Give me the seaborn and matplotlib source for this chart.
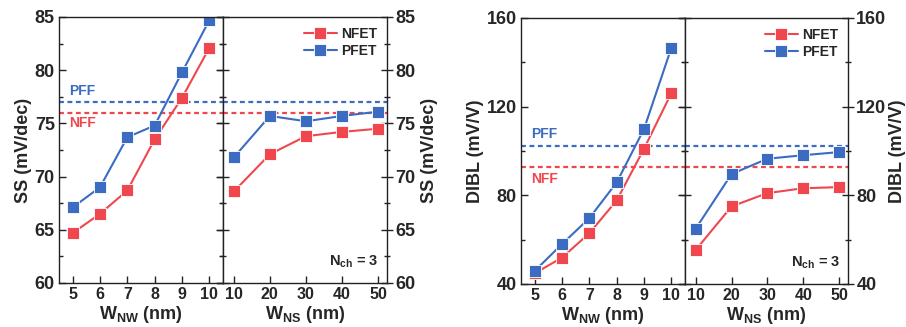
import numpy as np
import pandas as pd
import matplotlib
matplotlib.use("Agg")
import matplotlib.pyplot as plt
import seaborn as sns
from matplotlib.ticker import MultipleLocator

# ---- data ----
w_nw = [5, 6, 7, 8, 9, 10]
w_ns = [10, 20, 30, 40, 50]

ss_nw_nfet = [64.7, 66.5, 68.7, 73.5, 77.4, 82.1]
ss_nw_pfet = [67.1, 69.0, 73.7, 74.8, 79.8, 84.7]
ss_ns_nfet = [68.6, 72.1, 73.8, 74.2, 74.5]
ss_ns_pfet = [71.8, 75.7, 75.2, 75.7, 76.1]
ss_pff = 77.0
ss_nff = 76.0

dibl_nw_nfet = [44.8, 51.9, 62.9, 77.7, 101.0, 126.1]
dibl_nw_pfet = [45.9, 58.0, 69.7, 85.8, 109.9, 146.5]
dibl_ns_nfet = [55.4, 75.0, 81.0, 83.2, 83.7]
dibl_ns_pfet = [65.0, 89.6, 96.5, 98.1, 99.5]
dibl_pff = 102.1
dibl_nff = 93.0

series = ["NFET", "PFET"]
RED = "#f0474f"
BLUE = "#3b6cc2"

sns.set_theme(style="ticks")
plt.rcParams["font.family"] = ["Liberation Sans", "DejaVu Sans"]
plt.rcParams["font.weight"] = "bold"
plt.rcParams["mathtext.fontset"] = "custom"
plt.rcParams["mathtext.rm"] = "Liberation Sans:bold"
plt.rcParams["mathtext.bf"] = "Liberation Sans:bold"
plt.rcParams["mathtext.it"] = "Liberation Sans:bold"

W, H = 906, 327
fig = plt.figure(figsize=(W / 100, H / 100), dpi=100)


def ax_at(x0, x1, ytop, ybot):
    return fig.add_axes([x0 / W, (H - ybot) / H, (x1 - x0) / W, (ybot - ytop) / H])


def make_df(x, n, p):
    return pd.DataFrame({"x": list(x) * 2, "y": list(n) + list(p),
                         "dev": [series[0]] * len(n) + [series[1]] * len(p)})


def draw_pair(axL, axR, nw_n, nw_p, ns_n, ns_p, pff, nff, ylim, major, minor, ylabel,
              pff_off, nff_off, rpad):
    pal = {"NFET": RED, "PFET": BLUE}
    sns.lineplot(data=make_df(w_nw, nw_n, nw_p), x="x", y="y", hue="dev", palette=pal,
                 marker="s", markersize=8.5, markeredgewidth=0.6, linewidth=1.5, ax=axL, legend=False)
    sns.lineplot(data=make_df(w_ns, ns_n, ns_p), x="x", y="y", hue="dev", palette=pal,
                 marker="s", markersize=8.5, markeredgewidth=0.6, linewidth=1.5, ax=axR, legend=True)
    for ax in (axL, axR):
        ax.axhline(pff, color=BLUE, ls=(0, (2.2, 1.6)), lw=1.6, zorder=1)
        ax.axhline(nff, color=RED, ls=(0, (2.2, 1.6)), lw=1.6, zorder=1)
        ax.set_ylim(*ylim)
        ax.yaxis.set_major_locator(MultipleLocator(major))
        ax.yaxis.set_minor_locator(MultipleLocator(minor))
        for s in ax.spines.values():
            s.set_linewidth(1.0)
            s.set_color("#222222")
    axL.set_xlim(4.5, 10.5)
    axL.set_xticks(w_nw)
    axR.set_xlim(7.0, 52.5)
    axR.set_xticks(w_ns)
    axL.tick_params(axis="both", which="both", direction="in", right=True, left=True,
                    top=False, color="#222222")
    axL.tick_params(axis="both", which="major", length=5, width=1.0)
    axL.tick_params(axis="both", which="minor", length=3, width=1.0)
    axL.tick_params(axis="y", labelsize=13, pad=3)
    axL.tick_params(axis="x", labelsize=11.5, pad=3)
    axR.tick_params(axis="both", which="both", direction="inout", left=True, right=True,
                    top=False, labelleft=False, labelright=True, color="#222222")
    axR.tick_params(axis="y", which="major", length=8, width=1.0, labelsize=13, pad=2)
    axR.tick_params(axis="y", which="minor", length=5, width=1.0)
    axR.tick_params(axis="x", which="major", direction="in", length=5, width=1.0, labelsize=11.5, pad=3)
    axR.yaxis.set_label_position("right")
    axL.set_ylabel(ylabel, fontsize=13, fontweight="bold", labelpad=2)
    axR.set_ylabel(ylabel, fontsize=13, fontweight="bold", labelpad=rpad)
    axL.set_xlabel(r"W$_{\mathrm{NW}}$ (nm)", fontsize=13, fontweight="bold", labelpad=1)
    axR.set_xlabel(r"W$_{\mathrm{NS}}$ (nm)", fontsize=13, fontweight="bold", labelpad=1)
    axL.text(0.06, pff + pff_off, "PFF", color=BLUE, fontsize=10, fontweight="bold",
             transform=axL.get_yaxis_transform(), va="bottom", ha="left")
    axL.text(0.06, nff - nff_off, "NFF", color=RED, fontsize=10, fontweight="bold",
             transform=axL.get_yaxis_transform(), va="top", ha="left")
    axR.text(0.95, 0.05, r"N$_{\mathrm{ch}}$ = 3", transform=axR.transAxes, ha="right",
             va="bottom", fontsize=10.5, fontweight="bold")
    leg = axR.legend(loc="upper right", frameon=False, fontsize=10, handlelength=2.4,
                     handletextpad=0.3, borderaxespad=0.3, labelspacing=0.25, title=None)
    for t in leg.get_texts():
        t.set_fontweight("bold")


ax1 = ax_at(59, 223, 17, 283)
ax2 = ax_at(223, 387, 17, 283)
draw_pair(ax1, ax2, ss_nw_nfet, ss_nw_pfet, ss_ns_nfet, ss_ns_pfet, ss_pff, ss_nff,
          (60, 85), 5, 2.5, "SS (mV/dec)", 0.35, 0.3, 4)

ax3 = ax_at(521, 685, 18, 284)
ax4 = ax_at(685, 848, 18, 284)
draw_pair(ax3, ax4, dibl_nw_nfet, dibl_nw_pfet, dibl_ns_nfet, dibl_ns_pfet, dibl_pff, dibl_nff,
          (40, 160), 40, 20, "DIBL (mV/V)", 2.5, 2.5, 1.5)

fig.savefig("out.png", dpi=100, facecolor="white")
